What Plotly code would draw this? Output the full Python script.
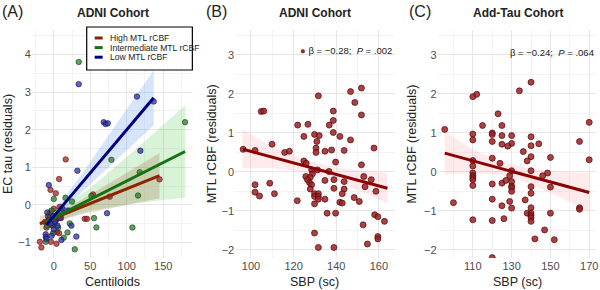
import plotly.graph_objects as go

# ---------------- Panel A data (Centiloids vs EC tau residuals) ----------------
high_x = [16.4, 7.3, 145, -4.5, 53.8, 76.7, 42.5, 45.5, 4.5, 7.3, -4, 3.7, -19, -17, 2.7,
          -12, -8, -5, -2, 0, 3, 5, -10, 8, 10]
high_y = [1.21, 0.69, 0.68, 0.40, 0.28, 0.22, -0.37, -0.37, -0.72, -0.75, -0.98, -1.03, -0.98, -1.13, 0.31,
          -0.45, -0.30, -0.20, -0.55, -0.10, -0.40, -0.25, -0.60, -0.05, -0.35]
inter_x = [34.2, 180, 79, 117.8, 115.5, 51.6, 0, 16, 25, 55.2, 58.4, 107.8, 21.9, 18.8, 13.7, -11, 28.8,
           -6, -3, 1, 4, -9, 6, 10, -1]
inter_y = [3.80, 2.20, 1.20, 0.87, 0.25, 0.24, 0.16, 0.19, 0.09, -0.35, -0.60, -0.60, -0.49, -0.73, -0.87, -0.98, -1.18,
           -0.35, -0.15, -0.50, -0.28, -0.55, -0.60, -0.15, -0.75]
low_x = [34.2, 114, 137, 68.5, 71, 74, 118.7, 32.4, -6.8, 73, 24.2, 31, 10.5, -11, -11, -3, -10,
         -7, -4, -1, 2, 5, -9, 0, 8, 12, 20]
low_y = [3.21, 2.88, 2.75, 2.20, 2.15, 2.17, 1.44, 0.91, 0.53, -0.22, -0.55, -0.84, -0.93, -0.78, -0.85, -0.82, -0.90,
         -0.40, -0.50, -0.30, -0.45, -0.55, -0.20, -0.65, -0.35, -0.10, -0.15]

# fitted lines (end points) and confidence bands
high_fit_x = [-19, 145]
high_fit_y = [-0.50, 0.78]
high_band_x = [-19, 5, 40, 90, 145]
high_band_lo = [-0.70, -0.43, -0.24, -0.05, 0.18]
high_band_hi = [-0.30, -0.19, 0.16, 0.75, 1.38]

inter_fit_x = [-11, 180]
inter_fit_y = [-0.45, 1.42]
inter_band_x = [-11, 10, 50, 110, 180]
inter_band_lo = [-0.67, -0.39, -0.15, 0.04, 0.20]
inter_band_hi = [-0.23, -0.09, 0.45, 1.44, 2.64]

low_fit_x = [-10, 137]
low_fit_y = [-0.53, 2.85]
low_band_x = [-10, 10, 40, 90, 137]
low_band_lo = [-0.78, -0.22, 0.37, 1.27, 2.12]
low_band_hi = [-0.28, 0.08, 0.87, 2.27, 3.58]

group_names = ["High MTL rCBF", "Intermediate MTL rCBF", "Low MTL rCBF"]

# ---------------- Panel B data (ADNI: SBP vs MTL rCBF) ----------------
b_x = [146.7, 151.8, 131.6, 148.7, 104.8, 106, 138.6, 151.8, 121.9, 126.7, 136.7, 138.6, 138.6, 124.8, 129.8,
       132, 141.7, 146.7, 130.9, 109.9, 96.3, 101.9, 115.8, 118, 130.5, 130.5, 134.7, 137.8, 143.7, 139.7,
       124.8, 125.9, 128.5, 128.8, 131.2, 136.6, 125.7, 127.8, 157.7, 101.9, 101.9, 104, 108.8, 111, 121.7,
       126.5, 127.5, 128.4, 127.8, 129.8, 131.6, 129.8, 131.6, 131.6, 129.8, 134.7, 134.7, 138.9, 138.9, 143.7,
       143.7, 142.8, 141.7, 142.8, 135.7, 139.7, 129.8, 131.6, 138.9, 148.4, 150.8, 151.8, 152.9, 153.5, 156.4,
       158, 159.5, 158.6, 162.6, 159.5, 159.5, 152.6, 154.6]
b_y = [2.06, 2.15, 1.95, 1.78, 1.55, 1.56, 1.56, 1.46, 1.20, 1.22, 1.20, 1.32, 1.01, 0.91, 0.96,
       0.93, 0.91, 0.82, 0.78, 0.71, 0.58, 0.55, 0.50, 0.53, 0.61, 0.50, 0.53, 0.56, 0.55, 0.25,
       0.28, 0.22, 0.05, -0.05, 0.05, 0.01, -0.12, -0.14, 0.61, -0.33, -0.52, -0.62, -0.29, -0.56, -0.74,
       -0.20, -0.28, -0.33, -0.44, -0.56, -0.56, -0.63, -0.63, -0.70, -0.82, -0.70, -0.22, -0.42, -0.20, -0.25,
       -0.44, -0.56, -0.78, -0.80, -1.06, -1.06, -1.57, -1.94, -1.94, -0.66, -0.76, 0.18, -0.12, -0.38, -0.20,
       -1.10, -1.15, -0.50, -1.27, -1.66, -1.72, -1.36, -1.85]
b_fit_x = [96.3, 164]
b_fit_y = [0.58, -0.42]
b_band_x = [96, 110, 125, 140, 152, 164]
b_band_lo = [0.085, 0.098, -0.004, -0.235, -0.512, -0.82]
b_band_hi = [1.085, 0.658, 0.316, 0.105, 0.028, -0.02]
b_stat = "β = −0.28;&nbsp; <i>P</i> = .002"

# ---------------- Panel C data (Add-Tau: SBP vs MTL rCBF) ----------------
c_x = [95.5, 110, 112, 123, 134, 140, 115, 125, 120, 120, 110, 110, 125, 130, 140, 120, 130, 125, 144, 165, 170, 128,
       136, 140, 138, 140, 150, 110, 110, 110, 110, 110, 120, 124, 130, 140, 148.5, 129,
       110, 110, 100, 110, 120, 120, 120, 125, 127, 125, 126, 130, 130, 130, 130, 129, 130, 137, 138,
       140, 140, 140, 140, 140, 140, 140, 147, 142, 152, 150, 146, 150, 165, 165, 120, 170]
c_y = [1.09, 1.93, 1.99, 1.49, 2.08, 2.30, 1.19, 1.19, 1.00, 0.96, 0.97, 0.82, 0.93, 0.93, 0.90, 0.78, 0.73, 0.71, 0.72, 0.78, 1.27, 0.66,
       0.52, 0.67, 0.28, 0.39, 0.37, 0.29, 0.15, -0.03, -0.10, -0.15, 0.35, 0.22, 0.03, 0.03, -0.03, -0.10,
       -0.20, -0.35, -0.79, -1.23, -0.31, -0.70, -1.25, -0.29, -0.22, -0.87, -1.20, -0.25, -0.37, -0.40, -0.50, -0.76, -0.93, -0.72, -1.06,
       -0.38, -0.55, -0.92, -1.06, -1.12, -1.18, -1.27, -1.49, -1.72, -1.74, -1.06, -0.10, -0.39, -0.92, -0.96, -2.20, 0.31]
c_fit_x = [95.5, 170]
c_fit_y = [0.48, -0.53]
c_band_x = [95.5, 110, 125, 140, 155, 170]
c_band_lo = [-0.07, -0.02, -0.09, -0.32, -0.66, -1.03]
c_band_hi = [1.03, 0.58, 0.25, 0.08, 0.00, -0.03]
c_stat = "β = −0.24;&nbsp; <i>P</i> = .064"

# tick labels
a_xticks = [0, 50, 100, 150]
a_yticks = [-1, 0, 1, 2, 3, 4]
b_xticks = [100, 120, 140, 160]
c_xticks = [110, 130, 150, 170]
bc_yticks = [-2, -1, 0, 1, 2, 3]

FONT = "Liberation Sans, Arial, sans-serif"
W, H = 600, 290
fig = go.Figure()


def band(xs, lo, hi, color, xa, ya):
    fig.add_trace(go.Scatter(x=list(xs) + list(xs)[::-1], y=list(hi) + list(lo)[::-1],
                             fill="toself", fillcolor=color, line=dict(width=0),
                             mode="lines", hoverinfo="skip", showlegend=False,
                             xaxis=xa, yaxis=ya))


# Panel A bands
band(inter_band_x, inter_band_lo, inter_band_hi, "rgba(80,200,80,0.22)", "x", "y")
band(high_band_x, high_band_lo, high_band_hi, "rgba(150,90,40,0.22)", "x", "y")
band(low_band_x, low_band_lo, low_band_hi, "rgba(90,150,235,0.25)", "x", "y")

pt_fill = ["rgba(165,35,35,0.75)", "rgba(40,125,40,0.75)", "rgba(45,45,170,0.75)"]
pt_line = ["#5e1010", "#124012", "#10104a"]
fit_col = ["#8B2500", "#117311", "#00007F"]
groups = [(high_x, high_y, high_fit_x, high_fit_y),
          (inter_x, inter_y, inter_fit_x, inter_fit_y),
          (low_x, low_y, low_fit_x, low_fit_y)]
for i, (xs, ys, fx, fy) in enumerate(groups):
    fig.add_trace(go.Scatter(x=xs, y=ys, mode="markers", showlegend=False, name=group_names[i],
                             marker=dict(size=5.5, color=pt_fill[i], line=dict(color=pt_line[i], width=0.6)),
                             xaxis="x", yaxis="y"))
for i, (xs, ys, fx, fy) in enumerate(groups):
    fig.add_trace(go.Scatter(x=fx, y=fy, mode="lines", showlegend=False, name=group_names[i],
                             line=dict(color=fit_col[i], width=3), xaxis="x", yaxis="y"))

# Panel B
band(b_band_x, b_band_lo, b_band_hi, "rgba(255,160,170,0.22)", "x2", "y2")
fig.add_trace(go.Scatter(x=b_x, y=b_y, mode="markers", showlegend=False,
                         marker=dict(size=6, color="rgba(160,30,35,0.85)", line=dict(color="#4a0a0a", width=0.7)),
                         xaxis="x2", yaxis="y2"))
fig.add_trace(go.Scatter(x=b_fit_x, y=b_fit_y, mode="lines", showlegend=False,
                         line=dict(color="#8B0000", width=3), xaxis="x2", yaxis="y2"))

# Panel C
band(c_band_x, c_band_lo, c_band_hi, "rgba(255,160,170,0.22)", "x3", "y3")
fig.add_trace(go.Scatter(x=c_x, y=c_y, mode="markers", showlegend=False,
                         marker=dict(size=6, color="rgba(160,30,35,0.85)", line=dict(color="#4a0a0a", width=0.7)),
                         xaxis="x3", yaxis="y3"))
fig.add_trace(go.Scatter(x=c_fit_x, y=c_fit_y, mode="lines", showlegend=False,
                         line=dict(color="#8B0000", width=3), xaxis="x3", yaxis="y3"))

ydom = [1 - 258 / H, 1 - 30 / H]


def xax(dom, rng, ticks, anchor, minor_step):
    return dict(domain=dom, range=rng, tickvals=ticks, anchor=anchor, showline=False, zeroline=False,
                showgrid=True, gridcolor="#e6e6e6", gridwidth=1, ticks="", ticklabeloverflow="allow",
                tickfont=dict(size=11, color="#4d4d4d", family=FONT),
                minor=dict(showgrid=True, gridcolor="#f3f3f3", gridwidth=1, dtick=minor_step,
                           tick0=ticks[0] - minor_step))


def yax(rng, ticks, anchor):
    return dict(domain=ydom, range=rng, tickvals=ticks, anchor=anchor, showline=False, zeroline=False,
                showgrid=True, gridcolor="#e6e6e6", gridwidth=1, ticks="",
                tickfont=dict(size=11, color="#4d4d4d", family=FONT),
                minor=dict(showgrid=True, gridcolor="#f3f3f3", gridwidth=1, dtick=0.5, tick0=-0.5))


fig.update_layout(
    width=W, height=H, margin=dict(l=0, r=0, t=0, b=0),
    paper_bgcolor="white", plot_bgcolor="white",
    font=dict(family=FONT, color="#222"),
    xaxis=xax([32 / W, 193 / W], [-30, 190], a_xticks, "y", 25),
    yaxis=yax([-1.41, 4.65], a_yticks, "x"),
    xaxis2=xax([236 / W, 396 / W], [92.6, 167.4], b_xticks, "y2", 10),
    yaxis2=yax([-2.21, 3.64], bc_yticks, "x2"),
    xaxis3=xax([439 / W, 598 / W], [91.8, 173.5], c_xticks, "y3", 10),
    yaxis3=yax([-2.21, 3.64], bc_yticks, "x3"),
    showlegend=False,
)

ann = []
shapes = []
# panel letters and titles
for lx, letter in [(0, "(A)"), (205, "(B)"), (408, "(C)")]:
    ann.append(dict(x=lx / W, y=1 - 12 / H, xref="paper", yref="paper", text=letter, showarrow=False,
                    xanchor="left", yanchor="middle", font=dict(size=16, family=FONT, color="#222")))
for cx, title in [(113, "ADNI Cohort"), (316, "ADNI Cohort"), (520, "Add-Tau Cohort")]:
    ann.append(dict(x=cx / W, y=1 - 13 / H, xref="paper", yref="paper", text="<b>" + title + "</b>",
                    showarrow=False, xanchor="center", yanchor="middle",
                    font=dict(size=12, family=FONT, color="#222")))
# axis titles
for cx, t in [(113, "Centiloids"), (316, "SBP (sc)"), (519, "SBP (sc)")]:
    ann.append(dict(x=cx / W, y=1 - 282 / H, xref="paper", yref="paper", text=t, showarrow=False,
                    xanchor="center", yanchor="middle", font=dict(size=12.5, family=FONT, color="#222")))
for cx, t in [(8, "EC tau (residuals)"), (213, "MTL rCBF (residuals)"), (413, "MTL rCBF (residuals)")]:
    ann.append(dict(x=cx / W, y=1 - 144 / H, xref="paper", yref="paper", text=t, showarrow=False,
                    textangle=-90, xanchor="center", yanchor="middle",
                    font=dict(size=12.5, family=FONT, color="#222")))

# legend of panel A (drawn as a key box)
shapes.append(dict(type="rect", xref="paper", yref="paper", x0=87 / W, x1=193 / W,
                   y0=1 - 70 / H, y1=1 - 27 / H, line=dict(color="black", width=1.2), fillcolor="white"))
for i, name in enumerate(group_names):
    ky = 38.0 + i * 9.6
    shapes.append(dict(type="line", xref="paper", yref="paper", x0=95 / W, x1=103 / W,
                       y0=1 - ky / H, y1=1 - ky / H, line=dict(color=fit_col[i], width=3)))
    ann.append(dict(x=109 / W, y=1 - ky / H, xref="paper", yref="paper", text=name, showarrow=False,
                    xanchor="left", yanchor="middle", borderpad=0,
                    font=dict(size=8.6, family=FONT, color="#222")))

# statistics text, panel B (with key dot) and C
ann.append(dict(x=299 / W, y=1 - 50 / H, xref="paper", yref="paper",
                text="<span style='color:#9a1e22'>●</span> " + b_stat, showarrow=False,
                xanchor="left", yanchor="middle", font=dict(size=9.5, family=FONT, color="#222")))
ann.append(dict(x=598 / W, y=1 - 52 / H, xref="paper", yref="paper",
                text=c_stat, showarrow=False,
                xanchor="right", yanchor="middle", font=dict(size=9.5, family=FONT, color="#222")))
fig.update_layout(annotations=ann, shapes=shapes)

fig.write_html("out.html", config={"displayModeBar": False},
               post_script="document.body.style.margin='0';document.body.style.padding='0';")
